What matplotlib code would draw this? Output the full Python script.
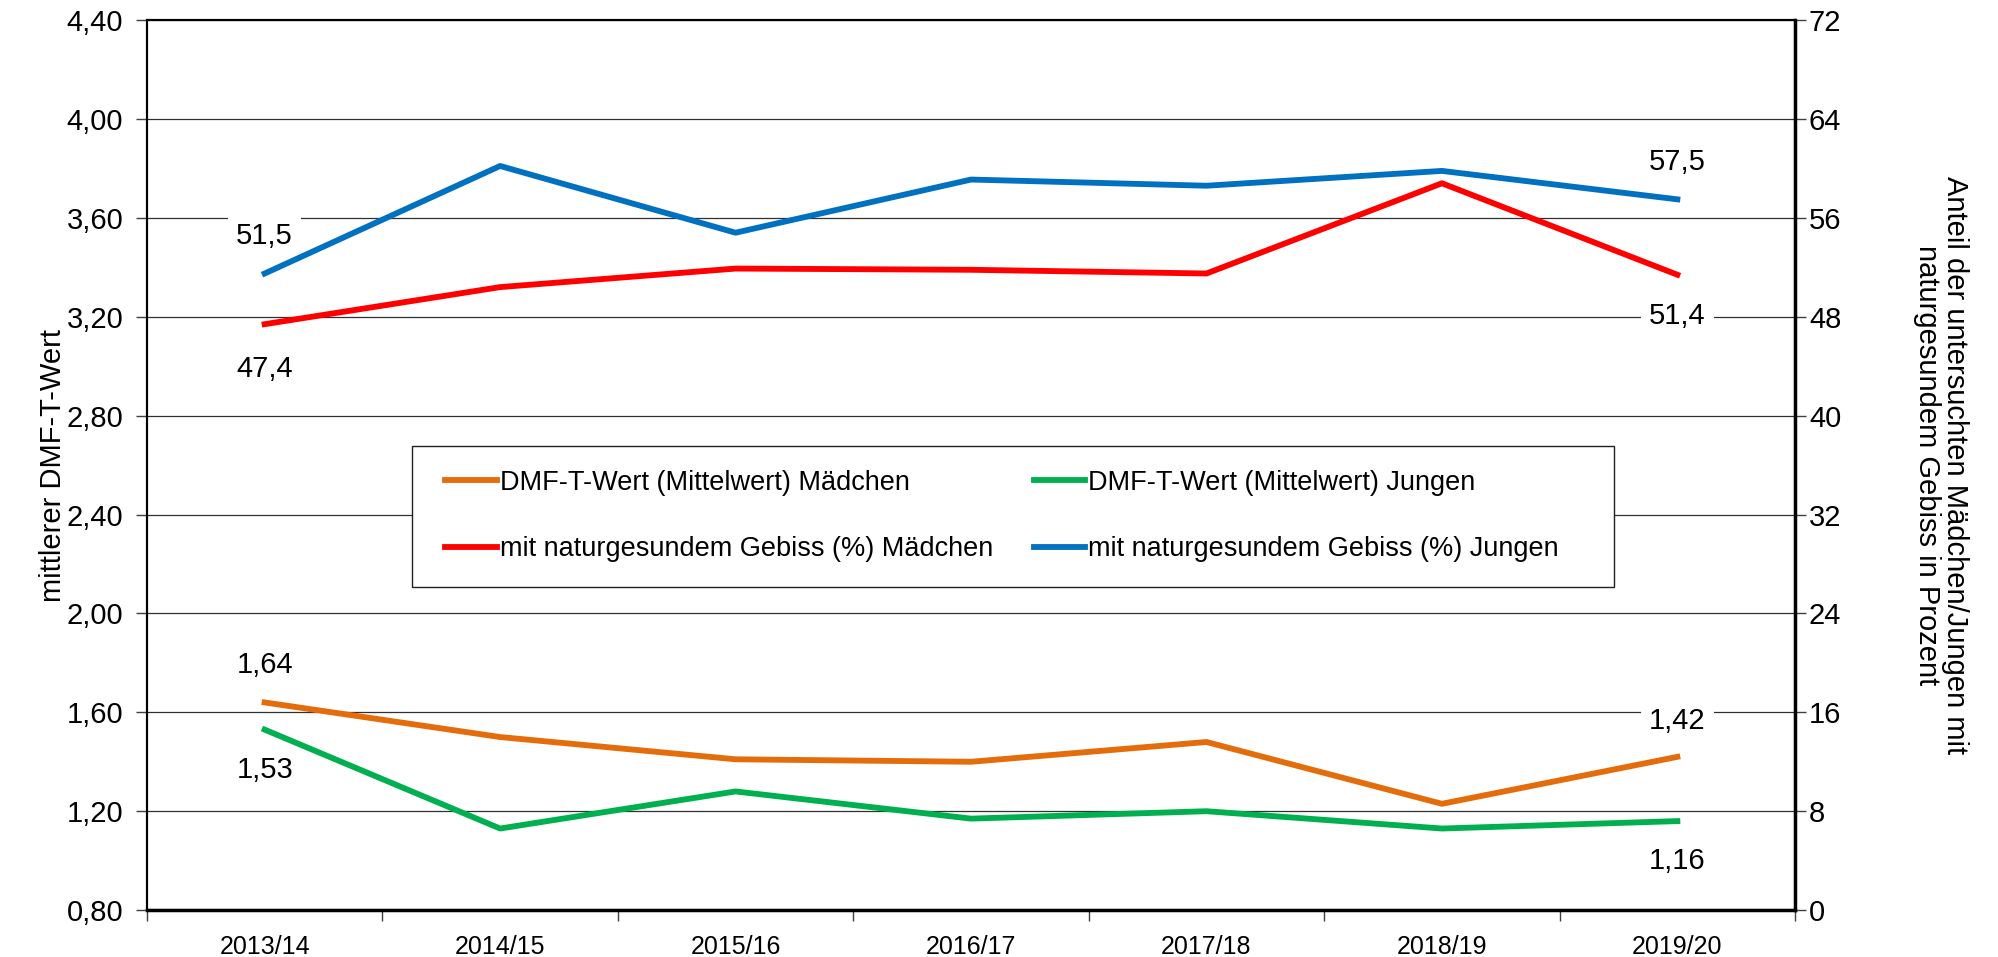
import numpy as np
import matplotlib.pyplot as plt
from matplotlib.patches import Rectangle

plt.rcParams['font.family'] = ['Liberation Sans', 'DejaVu Sans']

jahre = ['2013/14', '2014/15', '2015/16', '2016/17', '2017/18', '2018/19', '2019/20']
dmft_maedchen = [1.64, 1.50, 1.41, 1.40, 1.48, 1.23, 1.42]
dmft_jungen = [1.53, 1.13, 1.28, 1.17, 1.20, 1.13, 1.16]
gesund_maedchen = [47.4, 50.4, 51.9, 51.8, 51.5, 58.8, 51.4]
gesund_jungen = [51.5, 60.2, 54.8, 59.1, 58.6, 59.8, 57.5]

c_orange = '#E46C0A'
c_green = '#00B050'
c_red = '#FF0000'
c_blue = '#0070C0'

fig = plt.figure(figsize=(19.99, 9.57), dpi=100)
ax = fig.add_axes([0.0735, 0.049, 0.8245, 0.930])
ax2 = ax.twinx()

x = np.arange(len(jahre))
lw = 4.2

l1, = ax.plot(x, dmft_maedchen, color=c_orange, lw=lw, label='DMF-T-Wert (Mittelwert) Mädchen', zorder=3)
l2, = ax.plot(x, dmft_jungen, color=c_green, lw=lw, label='DMF-T-Wert (Mittelwert) Jungen', zorder=3)
l3, = ax2.plot(x, gesund_maedchen, color=c_red, lw=lw, label='mit naturgesundem Gebiss (%) Mädchen', zorder=3)
l4, = ax2.plot(x, gesund_jungen, color=c_blue, lw=lw, label='mit naturgesundem Gebiss (%) Jungen', zorder=3)

ax.set_xlim(-0.5, len(jahre) - 0.5)
ax.set_ylim(0.8, 4.4)
ax2.set_ylim(0, 72)
ax.set_yticks(np.arange(0.8, 4.41, 0.4))
ax.set_yticklabels([f'{v:.2f}'.replace('.', ',') for v in np.arange(0.8, 4.41, 0.4)])
ax2.set_yticks(np.arange(0, 73, 8))

ax.set_xticks(x)
ax.set_xticklabels(jahre)
ax.set_xticks(np.arange(-0.5, len(jahre), 1), minor=True)
ax.tick_params(axis='x', which='major', length=0, labelsize=18, pad=18)
ax.tick_params(axis='x', which='minor', length=8, width=1, color='#404040')
ax.tick_params(axis='y', labelsize=21, length=8, width=1, color='#404040', pad=9)
ax2.tick_params(axis='y', labelsize=21, length=8, width=1, color='#404040', pad=2)

ax.grid(axis='y', color='#303030', lw=0.9, zorder=0)
ax.set_axisbelow(True)
for sp in ax.spines.values():
    sp.set_linewidth(1.5)
for sp in ax2.spines.values():
    sp.set_linewidth(1.5)
ax2.spines['right'].set_linewidth(2.5)
ax.spines['bottom'].set_linewidth(2.5)

ax.set_ylabel('mittlerer DMF-T-Wert', fontsize=21, labelpad=0)
ax2.set_ylabel('Anteil der untersuchten Mädchen/Jungen mit\nnaturgesundem Gebiss in Prozent',
               fontsize=21, rotation=-90, labelpad=92, linespacing=1.0)

bbox = dict(facecolor='white', edgecolor='none', pad=6)
def label(axis, xi, yi, txt, dy):
    axis.annotate(txt, (xi, yi), xytext=(0, dy), textcoords='offset points',
                  ha='center', va='center', fontsize=21, bbox=bbox, zorder=2)

fmt = lambda v, d: f'{v:.{d}f}'.replace('.', ',')
last = len(jahre) - 1
label(ax2, 0, gesund_jungen[0], fmt(gesund_jungen[0], 1), 27)
label(ax2, 0, gesund_maedchen[0], fmt(gesund_maedchen[0], 1), -32)
label(ax2, last, gesund_jungen[last], fmt(gesund_jungen[last], 1), 27)
label(ax2, last, gesund_maedchen[last], fmt(gesund_maedchen[last], 1), -30)
label(ax, 0, dmft_maedchen[0], fmt(dmft_maedchen[0], 2), 27)
label(ax, 0, dmft_jungen[0], fmt(dmft_jungen[0], 2), -29)
label(ax, last, dmft_maedchen[last], fmt(dmft_maedchen[last], 2), 26)
label(ax, last, dmft_jungen[last], fmt(dmft_jungen[last], 2), -29)

# legend frame drawn separately so the columns can sit closer together
frame = Rectangle((0.161, 0.363), 0.729, 0.158, transform=ax2.transAxes,
                  facecolor='white', edgecolor='#202020', lw=1.0, zorder=4)
ax2.add_patch(frame)
leg = ax2.legend(handles=[l1, l3, l2, l4], ncol=2, loc='upper left',
                 bbox_to_anchor=(0.168, 0.519),
                 fontsize=19.5, frameon=False, handlelength=1.9, handletextpad=0.1,
                 borderaxespad=0, labelspacing=1.5, borderpad=0.8, columnspacing=1.5)
leg.set_zorder(5)

fig.savefig('out.png', dpi=100)
